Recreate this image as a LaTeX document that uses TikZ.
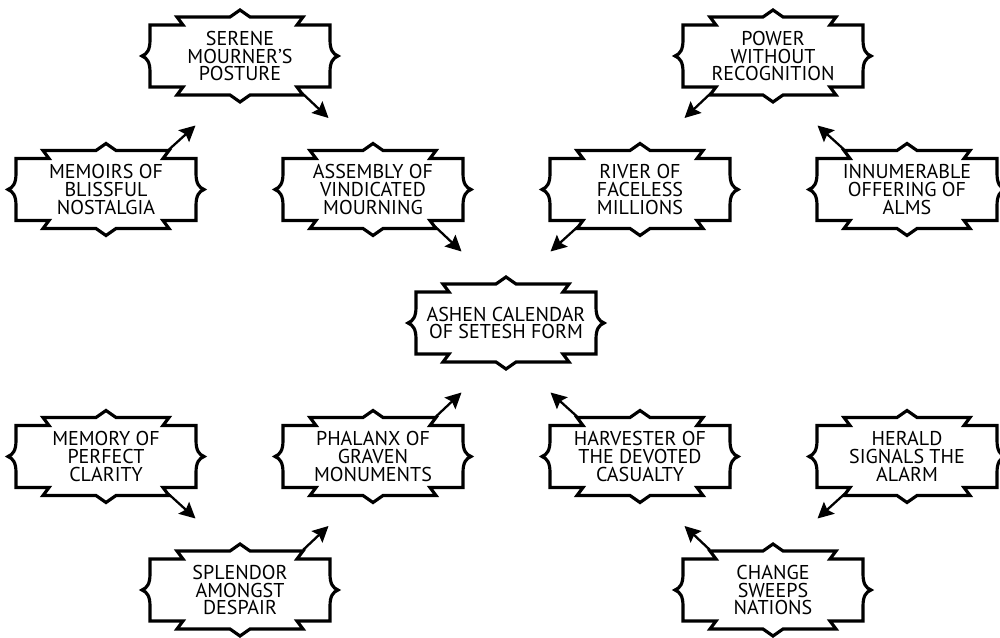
\documentclass[tikz,border=0pt]{standalone}
\usepackage{fontspec}
\setmainfont{PT Sans}
\usepackage{tikz}
\usetikzlibrary{arrows.meta, calc}
\tikzset{
    plaque_line/.style={
        draw=black, line width=1.8pt, miter limit=4
    },
    plaque/.style={
        rectangle, inner sep=0pt, minimum width=3.6cm, minimum height=1.24cm,
        align=center, font=\fontsize{11.4}{10.2}\selectfont,
        append after command={\pgfextra{\begin{pgfinterruptpath}
            \draw[plaque_line, shift={(\tikzlastnode.center)}]
                (-90,-31) -- (-57,-31) -- (-63,-39) -- (-10,-39) -- (0,-46) -- (10,-39)
                -- (63,-39) -- (57,-31) -- (90,-31) -- (90,-16)
                .. controls (90,-6) and (93,-2) .. (98,0)
                .. controls (93,2) and (90,6) .. (90,16)
                -- (90,31) -- (57,31) -- (63,39) -- (10,39) -- (0,46) -- (-10,39)
                -- (-63,39) -- (-57,31) -- (-90,31) -- (-90,16)
                .. controls (-90,6) and (-93,2) .. (-98,0)
                .. controls (-93,-2) and (-90,-6) .. (-90,-16) -- cycle;
        \end{pgfinterruptpath}}}
    },
    flow_arrow/.style={
        -{Stealth[length=9pt, width=9pt, inset=1.5pt]}, line width=1.3pt, draw=black
    }
}

\begin{document}
\begin{tikzpicture}[x=0.02cm, y=-0.02cm]
    \useasboundingbox (0,0) rectangle (1000,638);

    % Top row
    \node[plaque] (serene) at (240,56) {SERENE\\MOURNER'S\\POSTURE};
    \node[plaque] (power) at (773,56) {POWER\\WITHOUT\\RECOGNITION};

    % Second row
    \node[plaque] (memoirs) at (106,189.5) {MEMOIRS OF\\BLISSFUL\\NOSTALGIA};
    \node[plaque] (assembly) at (373,189.5) {ASSEMBLY OF\\VINDICATED\\MOURNING};
    \node[plaque] (river) at (640,189.5) {RIVER OF\\FACELESS\\MILLIONS};
    \node[plaque] (alms) at (907,189.5) {INNUMERABLE\\OFFERING OF\\ALMS};

    % Centre
    \node[plaque] (calendar) at (506,323) {ASHEN CALENDAR\\OF SETESH FORM};

    % Fourth row
    \node[plaque] (memory) at (106,456.5) {MEMORY OF\\PERFECT\\CLARITY};
    \node[plaque] (phalanx) at (373,456.5) {PHALANX OF\\GRAVEN\\MONUMENTS};
    \node[plaque] (harvester) at (640,456.5) {HARVESTER OF\\THE DEVOTED\\CASUALTY};
    \node[plaque] (herald) at (907,456.5) {HERALD\\SIGNALS THE\\ALARM};

    % Bottom row
    \node[plaque] (splendor) at (240,590) {SPLENDOR\\AMONGST\\DESPAIR};
    \node[plaque] (change) at (773,590) {CHANGE\\SWEEPS\\NATIONS};

    % Upper left chain
    \draw[flow_arrow] ([shift={(63,-40)}]memoirs.center) -- ([shift={(-44.5,69.5)}]serene.center);
    \draw[flow_arrow] ([shift={(62,37)}]serene.center) -- ([shift={(-44.5,-71.5)}]assembly.center);
    \draw[flow_arrow] ([shift={(62,37)}]assembly.center) -- ([shift={(-44.5,-71.5)}]calendar.center);

    % Upper right chain
    \draw[flow_arrow] ([shift={(-63,-40)}]alms.center) -- ([shift={(44.5,69.5)}]power.center);
    \draw[flow_arrow] ([shift={(-62,37)}]power.center) -- ([shift={(44.5,-71.5)}]river.center);
    \draw[flow_arrow] ([shift={(-62,37)}]river.center) -- ([shift={(44.5,-71.5)}]calendar.center);

    % Lower left chain
    \draw[flow_arrow] ([shift={(62,37)}]memory.center) -- ([shift={(-44.5,-71.5)}]splendor.center);
    \draw[flow_arrow] ([shift={(63,-40)}]splendor.center) -- ([shift={(-44.5,69.5)}]phalanx.center);
    \draw[flow_arrow] ([shift={(63,-40)}]phalanx.center) -- ([shift={(-44.5,69.5)}]calendar.center);

    % Lower right chain
    \draw[flow_arrow] ([shift={(-62,37)}]herald.center) -- ([shift={(44.5,-71.5)}]change.center);
    \draw[flow_arrow] ([shift={(-63,-40)}]change.center) -- ([shift={(44.5,69.5)}]harvester.center);
    \draw[flow_arrow] ([shift={(-63,-40)}]harvester.center) -- ([shift={(44.5,69.5)}]calendar.center);

\end{tikzpicture}
\end{document}
